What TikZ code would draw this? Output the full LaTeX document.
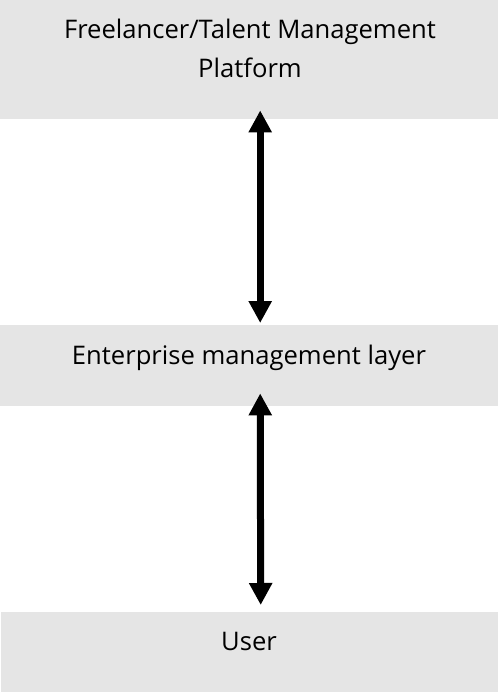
\documentclass[tikz,border=0pt]{standalone}
\usepackage{fontspec}
\setmainfont{Open Sans}
\usetikzlibrary{arrows.meta}
\tikzset{
  layer/.style={fill=boxgray, draw=none, inner sep=0pt, minimum width=498pt},
  lbl/.style={font=\fontsize{25.6}{39}\selectfont, text=black, align=center, inner sep=0pt},
  biarrow/.style={line width=7pt, {Triangle[width=22pt,length=22pt]}-{Triangle[width=22pt,length=22pt]}}
}
\definecolor{boxgray}{HTML}{E5E5E5}
\begin{document}
\begin{tikzpicture}[x=1pt,y=-1pt]
\useasboundingbox (0,0) rectangle (500,696);
\node[layer, minimum height=119pt, anchor=north west] (top) at (0,0) {};
\node[layer, minimum height=81pt, anchor=north west] (mid) at (0,325) {};
\node[layer, minimum height=80pt, minimum width=497pt, anchor=north west] (bot) at (1,612) {};
\node[lbl, anchor=base] (toptext) at (250,77) {Freelancer/Talent Management\\Platform};
\node[lbl, anchor=base] (midtext) at (249,364) {Enterprise management layer};
\node[lbl, anchor=base] (bottext) at (249,650) {User};
\draw[biarrow] ([xshift=11pt,yshift=9pt]top.south) -- ([xshift=11pt,yshift=2pt]mid.north);
\draw[biarrow] ([xshift=11pt,yshift=13pt]mid.south) -- ([xshift=11pt,yshift=7pt]bot.north);
\end{tikzpicture}
\end{document}
